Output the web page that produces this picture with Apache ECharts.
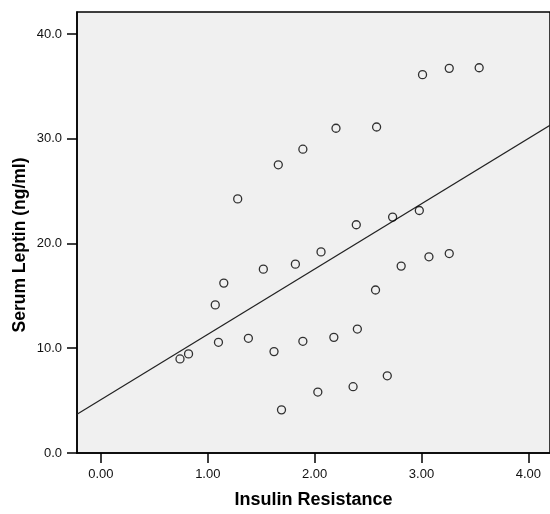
<!DOCTYPE html>
<html>
<head>
<meta charset="utf-8">
<script src="https://cdn.jsdelivr.net/npm/echarts@6/dist/echarts.min.js"></script>
<style>
html,body{margin:0;padding:0;background:#fff;}
#chart{width:550px;height:514px;}
</style>
</head>
<body>
<div id="chart"></div>
<script>
// Insulin Resistance (x) vs Serum Leptin ng/ml (y)
var insulinResistance = [0.74, 0.82, 1.07, 1.10, 1.15, 1.28, 1.38, 1.52, 1.62, 1.66, 1.69, 1.82, 1.89, 1.89, 2.03, 2.06, 2.18, 2.20, 2.36, 2.39, 2.40, 2.57, 2.58, 2.68, 2.73, 2.81, 2.98, 3.01, 3.07, 3.26, 3.26, 3.54];
var serumLeptin = [8.98, 9.46, 14.14, 10.57, 16.22, 24.26, 10.95, 17.55, 9.68, 27.51, 4.12, 18.03, 29.0, 10.66, 5.82, 19.2, 11.04, 31.0, 6.33, 21.79, 11.83, 15.56, 31.12, 7.37, 22.52, 17.84, 23.15, 36.12, 18.73, 19.04, 36.72, 36.78];
var fitIntercept = 5.1;
var fitSlope = 6.23;
var xTicks = [0, 1, 2, 3, 4];
var yTicks = [0, 10, 20, 30, 40];
var xRange = [-0.224, 4.203];
var yRange = [0, 42.1];

var points = insulinResistance.map(function (x, i) { return [x, serumLeptin[i]]; });
var fitLine = xRange.map(function (x) { return [x, fitIntercept + fitSlope * x]; });

var chart = echarts.init(document.getElementById('chart'), null, {renderer: 'canvas'});
var labelFont = {color: '#111', fontFamily: 'Liberation Sans, Arial, sans-serif', fontSize: 13};
chart.setOption({
  animation: false,
  backgroundColor: '#ffffff',
  grid: {
    left: 77, top: 12, width: 474, height: 444,
    show: true, backgroundColor: '#f0f0f0', borderColor: '#000', borderWidth: 1.5
  },
  xAxis: {
    type: 'value', min: xRange[0], max: xRange[1],
    name: 'Insulin Resistance', nameLocation: 'middle', nameGap: 38,
    nameTextStyle: {color: '#000', fontWeight: 'bold', fontSize: 18, fontFamily: 'Liberation Sans, Arial, sans-serif'},
    axisLine: {show: true, onZero: false, lineStyle: {color: '#000', width: 1.5}},
    axisTick: {show: true, length: 10, customValues: xTicks, lineStyle: {color: '#000', width: 1.5}},
    axisLabel: Object.assign({margin: 15, customValues: xTicks, formatter: function (v) { return v.toFixed(2); }}, labelFont),
    splitLine: {show: false}
  },
  yAxis: {
    type: 'value', min: yRange[0], max: yRange[1],
    axisLine: {show: true, onZero: false, lineStyle: {color: '#000', width: 1.5}},
    axisTick: {show: true, length: 10, customValues: yTicks, lineStyle: {color: '#000', width: 1.5}},
    axisLabel: Object.assign({margin: 15, customValues: yTicks, formatter: function (v) { return v.toFixed(1); }}, labelFont),
    splitLine: {show: false}
  },
  graphic: [{
    type: 'text', x: 20, y: 245, rotation: Math.PI / 2,
    style: {
      text: 'Serum Leptin (ng/ml)', fill: '#000',
      font: 'bold 17.5px "Liberation Sans", Arial, sans-serif',
      align: 'center', verticalAlign: 'middle'
    }
  }],
  series: [{
    type: 'line', data: fitLine, symbol: 'none', silent: true,
    lineStyle: {color: '#222', width: 1.2}, z: 2
  }, {
    type: 'scatter', data: points, symbol: 'circle', symbolSize: 8,
    itemStyle: {color: 'rgba(0,0,0,0)', borderColor: '#000', borderWidth: 1.3}, z: 3
  }]
});
</script>
</body>
</html>
